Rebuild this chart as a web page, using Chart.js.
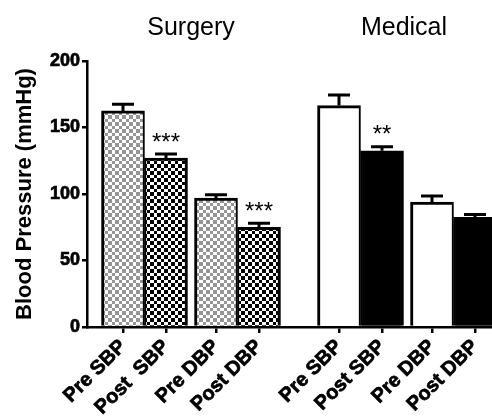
<!DOCTYPE html>
<html>
<head>
<meta charset="utf-8">
<script src="https://cdn.jsdelivr.net/npm/chart.js@4.4.1/dist/chart.umd.min.js"></script>
<style>
  html, body { margin: 0; padding: 0; background: #fff; }
  #wrap { width: 492px; height: 416px; position: relative; }
</style>
</head>
<body>
<div id="wrap"><canvas id="myChart"></canvas></div>
<script>
// values
const groups = ['Surgery', 'Medical'];
const categories = ['Pre SBP', 'Post  SBP', 'Pre DBP', 'Post DBP', 'Pre SBP', 'Post SBP', 'Pre DBP', 'Post DBP'];
const means = [162.5, 127, 97, 75, 166.5, 132.5, 94, 82.5];
const errors = [5, 3, 2.5, 3, 8, 3, 4.5, 2];
const marks = ['', '***', '', '***', '', '**', '', ''];
const yTicks = [0, 50, 100, 150, 200];

// layout (pixels): bar width, step between pairs, step between groups
const BAR = 43, PAIR = 93, GROUP = 216;
const AXIS_W = 87, XAXIS_H = 89, TOP = 61;
const W = 492;

function slot(i) {
  var g = Math.floor(i / 4), p = Math.floor((i % 4) / 2), k = i % 2;
  return g * GROUP + p * PAIR + k * BAR;
}

function checker(a, b) {
  var c = document.createElement('canvas');
  c.width = 7; c.height = 7;
  var cx = c.getContext('2d');
  for (var y = 0; y < 7; y++) {
    for (var x = 0; x < 7; x++) {
      cx.fillStyle = ((x < 3) === (y < 3)) ? a : b;
      cx.fillRect(x, y, 1, 1);
    }
  }
  return cx.createPattern(c, 'repeat');
}

var ctx0 = document.getElementById('myChart').getContext('2d');
var fills = [
  checker('#959595', '#ffffff'), checker('#000000', '#ffffff'),
  checker('#959595', '#ffffff'), checker('#000000', '#ffffff'),
  '#ffffff', '#000000', '#ffffff', '#000000'
];

Chart.defaults.font.family = "'Liberation Sans', Arial, sans-serif";
Chart.defaults.color = '#000';

var firstX = 123; // pixel of the first bar centre

var extras = {
  id: 'extras',
  afterDatasetsDraw: function (chart) {
    var ctx = chart.ctx;
    var ys = chart.scales.y;
    var bars = chart.getDatasetMeta(0).data;
    ctx.save();
    ctx.strokeStyle = '#000';
    ctx.lineWidth = 3;
    bars.forEach(function (bar, i) {
      var top = ys.getPixelForValue(means[i]);
      var et = ys.getPixelForValue(means[i] + errors[i]);
      ctx.beginPath();
      ctx.moveTo(bar.x, top);
      ctx.lineTo(bar.x, et);
      ctx.moveTo(bar.x - 11, et);
      ctx.lineTo(bar.x + 11, et);
      ctx.stroke();
      if (marks[i]) {
        ctx.fillStyle = '#000';
        ctx.font = "24px 'Liberation Sans', Arial, sans-serif";
        ctx.textAlign = 'center';
        ctx.textBaseline = 'alphabetic';
        ctx.fillText(marks[i], bar.x, et - 4.5);
      }
    });
    // group titles
    ctx.font = "25px 'Liberation Sans', Arial, sans-serif";
    ctx.fillStyle = '#000';
    ctx.textAlign = 'center';
    ctx.textBaseline = 'alphabetic';
    groups.forEach(function (g, gi) {
      var sum = 0;
      for (var j = 0; j < 4; j++) sum += bars[gi * 4 + j].x;
      ctx.fillText(g, sum / 4 - gi * 3, 35);
    });
    ctx.restore();
  }
};

var myChart = new Chart(ctx0, {
  type: 'bar',
  data: {
    datasets: [{
      data: means.map(function (v, i) { return { x: slot(i), y: v }; }),
      backgroundColor: fills,
      borderColor: '#000',
      borderWidth: function (c) {
        return c.dataIndex % 2 === 0
          ? { top: 3, left: 3, right: 2, bottom: 0 }
          : { top: 3, left: 2, right: 3, bottom: 0 };
      },
      borderSkipped: false,
      categoryPercentage: 1,
      barPercentage: 1
    }]
  },
  options: {
    responsive: true,
    maintainAspectRatio: false,
    animation: false,
    devicePixelRatio: 1,
    layout: { padding: { top: TOP, left: 0, right: 0, bottom: 0 } },
    plugins: { legend: { display: false }, tooltip: { enabled: false } },
    scales: {
      x: {
        type: 'linear',
        offset: false,
        min: AXIS_W - firstX,
        max: W - firstX,
        grid: { offset: false, drawOnChartArea: false, drawTicks: true, tickLength: 6, color: '#000', lineWidth: 2.5 },
        border: { display: true, color: '#000', width: 2.5 },
        ticks: {
          autoSkip: false,
          minRotation: 45,
          maxRotation: 45,
          padding: 2,
          font: { size: 20, weight: 'bold' },
          textStrokeColor: '#000',
          textStrokeWidth: 0.7,
          callback: function (v, i) { return categories[i]; }
        },
        afterBuildTicks: function (s) {
          s.ticks = categories.map(function (c, i) { return { value: slot(i) }; });
        },
        afterFit: function (s) { s.height = XAXIS_H; s.paddingLeft = 0; s.paddingRight = 0; }
      },
      y: {
        min: 0,
        max: 200,
        grid: { drawOnChartArea: false, drawTicks: true, tickLength: 5, color: '#000', lineWidth: 2.5 },
        border: { display: true, color: '#000', width: 2.5 },
        ticks: {
          padding: 2,
          font: { size: 18, weight: 'bold' },
          textStrokeColor: '#000',
          textStrokeWidth: 0.7
        },
        afterBuildTicks: function (s) {
          s.ticks = yTicks.map(function (v) { return { value: v }; });
        },
        title: {
          display: true,
          text: 'Blood Pressure (mmHg)',
          font: { size: 22, weight: 'bold' },
          padding: { top: 12, bottom: 0 }
        },
        afterFit: function (s) { s.width = AXIS_W; s.paddingTop = 0; s.paddingBottom = 0; }
      }
    }
  },
  plugins: [extras]
});
</script>
</body>
</html>
